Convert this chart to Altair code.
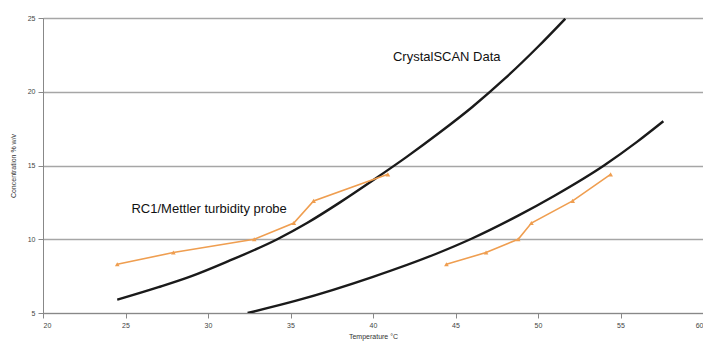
import altair as alt
import pandas as pd

# CrystalSCAN solubility curves (temperature °C, concentration % w/v)
upper_T = [24.5, 27, 29, 31.2, 34.2, 36, 38, 40, 42, 44, 46, 48, 50, 51.65]
upper_C = [5.9, 6.75, 7.5, 8.5, 10.0, 11.1, 12.5, 14.0, 15.55, 17.2, 18.95, 20.9, 23.05, 24.95]
lower_T = [32.4, 35.4, 40, 43.8, 46, 48.8, 51, 54, 56, 57.6]
lower_C = [5.0, 5.85, 7.45, 9.0, 10.05, 11.6, 12.95, 15.0, 16.6, 18.0]

# RC1/Mettler turbidity probe points
probe1_T = [24.5, 27.9, 32.8, 35.2, 36.4, 40.9]
probe2_T = [44.45, 46.85, 48.8, 49.6, 52.1, 54.4]
probe_C = [8.3, 9.1, 10.0, 11.1, 12.6, 14.4]

x_ticks = [20, 25, 30, 35, 40, 45, 50, 55, 60]
y_ticks = [5, 10, 15, 20, 25]

curves = pd.concat([
    pd.DataFrame({"T": upper_T, "C": upper_C, "series": "upper"}),
    pd.DataFrame({"T": lower_T, "C": lower_C, "series": "lower"}),
])
probes = pd.concat([
    pd.DataFrame({"T": probe1_T, "C": probe_C, "series": "p1"}),
    pd.DataFrame({"T": probe2_T, "C": probe_C, "series": "p2"}),
])

FONT = "Liberation Sans"
ORANGE = "#EF9E50"

x = alt.X("T:Q",
          scale=alt.Scale(domain=[20, 60], nice=False, zero=False),
          axis=alt.Axis(values=x_ticks, grid=False, title="Temperature °C",
                        labelFontSize=7, titleFontSize=7, labelColor="#444",
                        titleColor="#333", tickSize=5, labelPadding=3,
                        titlePadding=4, domainColor="#888", tickColor="#888",
                        labelFont=FONT, titleFont=FONT, titleFontWeight="normal"))
y = alt.Y("C:Q",
          scale=alt.Scale(domain=[5, 25], nice=False, zero=False),
          axis=alt.Axis(values=y_ticks, grid=True, gridColor="#a6a6a6", gridWidth=1.5,
                        title="Concentration % w/v",
                        labelFontSize=7, titleFontSize=7, labelColor="#444",
                        titleColor="#333", tickSize=5, labelPadding=3,
                        titlePadding=11, domainColor="#888", tickColor="#888",
                        labelFont=FONT, titleFont=FONT, titleFontWeight="normal"))

curve_layer = alt.Chart(curves).mark_line(
    color="#1a1a1a", strokeWidth=2.4, interpolate="monotone", clip=True
).encode(x=x, y=y, detail="series:N")

probe_layer = alt.Chart(probes).mark_line(
    color=ORANGE, strokeWidth=1.6,
    point=alt.OverlayMarkDef(shape="triangle-up", size=22, filled=True, color=ORANGE)
).encode(x="T:Q", y="C:Q", detail="series:N")

label1 = alt.Chart(pd.DataFrame({"a": [0]})).mark_text(
    font=FONT, fontSize=13, color="#111", align="center", baseline="middle"
).encode(x=alt.datum(44.47), y=alt.datum(22.36), text=alt.value("CrystalSCAN Data"))

label2 = alt.Chart(pd.DataFrame({"a": [0]})).mark_text(
    font=FONT, fontSize=13, color="#111", align="center", baseline="middle"
).encode(x=alt.datum(30.07), y=alt.datum(12.03), text=alt.value("RC1/Mettler turbidity probe"))

chart = alt.layer(curve_layer, probe_layer, label1, label2).properties(
    width=660, height=295,
    autosize=alt.AutoSizeParams(type="none"),
    padding={"left": 35, "top": 10, "right": 0, "bottom": 31},
).configure_view(stroke="#aaaaaa", strokeWidth=1)

chart.save("out.html", embed_options={"renderer": "svg", "actions": False})
